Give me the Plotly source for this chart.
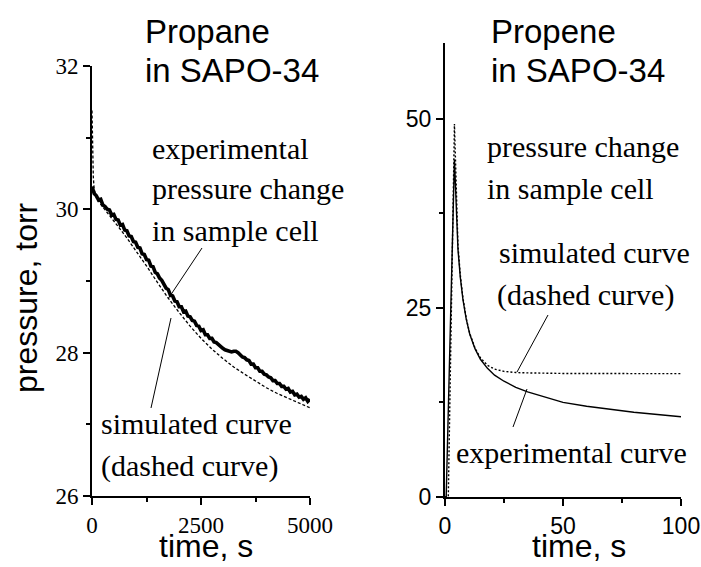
import plotly.graph_objects as go

# ---------------- data ----------------
# Propane in SAPO-34 (left panel)
propane_exp_t = [0, 50, 100, 150, 200, 250, 300, 350, 400, 450, 500, 550, 600, 650, 700, 750, 800, 850, 900, 950,
                 1000, 1050, 1100, 1150, 1200, 1250, 1300, 1350, 1400, 1450, 1500, 1550, 1600, 1650, 1700, 1750,
                 1800, 1850, 1900, 1950, 2000, 2050, 2100, 2150, 2200, 2250, 2300, 2350, 2400, 2450, 2500, 2550,
                 2600, 2650, 2700, 2750, 2800, 2850, 2900, 2950, 3000, 3050, 3100, 3150, 3200, 3250, 3300, 3350,
                 3400, 3450, 3500, 3550, 3600, 3650, 3700, 3750, 3800, 3850, 3900, 3950, 4000, 4050, 4100, 4150,
                 4200, 4250, 4300, 4350, 4400, 4450, 4500, 4550, 4600, 4650, 4700, 4750, 4800, 4850, 4900, 4950, 5000]
propane_exp_p = [30.32, 30.22, 30.19, 30.13, 30.14, 30.06, 30.04, 30.00, 29.99, 29.92, 29.93, 29.86, 29.85, 29.78,
                 29.79, 29.71, 29.70, 29.63, 29.62, 29.55, 29.54, 29.47, 29.46, 29.38, 29.37, 29.30, 29.29, 29.21,
                 29.20, 29.12, 29.10, 29.04, 29.01, 28.96, 28.90, 28.88, 28.80, 28.79, 28.72, 28.71, 28.64, 28.64,
                 28.57, 28.58, 28.51, 28.50, 28.45, 28.44, 28.38, 28.37, 28.31, 28.32, 28.25, 28.25, 28.20, 28.20,
                 28.15, 28.14, 28.11, 28.08, 28.06, 28.04, 28.03, 28.01, 28.01, 28.02, 28.02, 28.00, 27.97, 27.94,
                 27.93, 27.90, 27.89, 27.84, 27.84, 27.79, 27.79, 27.74, 27.74, 27.70, 27.69, 27.66, 27.65, 27.61,
                 27.61, 27.57, 27.57, 27.53, 27.53, 27.49, 27.50, 27.45, 27.46, 27.41, 27.42, 27.38, 27.39, 27.35,
                 27.37, 27.32, 27.35]
propane_sim_t = [0, 5, 10, 20, 30, 50, 100, 200, 400, 600, 800, 1000, 1250, 1500, 1750, 2000, 2250, 2500, 2750,
                 3000, 3250, 3500, 3750, 4000, 4250, 4500, 4750, 5000]
propane_sim_p = [31.38, 31.15, 30.95, 30.65, 30.45, 30.28, 30.16, 30.07, 29.92, 29.76, 29.60, 29.43, 29.21, 28.98,
                 28.76, 28.56, 28.37, 28.20, 28.05, 27.92, 27.80, 27.70, 27.60, 27.51, 27.43, 27.36, 27.29, 27.23]

# Propene in SAPO-34 (right panel)
propene_exp_t = [0, 0.5, 4, 5, 5.5, 6.5, 7.6, 9, 10.5, 12.7, 15, 18, 21, 25, 30, 35, 40, 50, 60, 70, 80, 90, 100]
propene_exp_p = [0, 0, 44.6, 36.5, 32.7, 29.0, 26.1, 23.5, 21.5, 19.6, 18.2, 17.0, 16.1, 15.3, 14.5, 13.9, 13.4,
                 12.5, 12.0, 11.6, 11.2, 10.9, 10.6]
propene_sim_t = [0, 1.4, 4, 5, 5.5, 6.5, 7.6, 9, 10.5, 12.7, 15, 18, 21, 25, 30, 35, 40, 50, 60, 70, 80, 90, 100]
propene_sim_p = [0, 0, 49.3, 37.5, 33.2, 29.3, 26.3, 23.6, 21.6, 19.7, 18.4, 17.4, 16.9, 16.6, 16.45, 16.4, 16.35,
                 16.33, 16.32, 16.31, 16.30, 16.30, 16.30]

left_xticks = [0, 2500, 5000]
left_yticks = [26, 28, 30, 32]
right_xticks = [0, 50, 100]
right_yticks = [0, 25, 50]

W, H = 701, 567
SERIF = "Liberation Serif, Times New Roman, serif"
SANS = "Liberation Sans, Arial, sans-serif"


def px(x):
    return x / W


def py(y):
    return 1 - y / H


fig = go.Figure()
fig.add_trace(go.Scatter(x=propane_sim_t, y=propane_sim_p, mode="lines", xaxis="x", yaxis="y",
                         line=dict(color="black", width=1.3, dash="3px,2px"), showlegend=False))
fig.add_trace(go.Scatter(x=propane_exp_t, y=propane_exp_p, mode="lines", xaxis="x", yaxis="y",
                         line=dict(color="black", width=3.6), showlegend=False))
fig.add_trace(go.Scatter(x=propene_exp_t, y=propene_exp_p, mode="lines", xaxis="x2", yaxis="y2",
                         line=dict(color="black", width=1.4), showlegend=False))
fig.add_trace(go.Scatter(x=propene_sim_t, y=propene_sim_p, mode="lines", xaxis="x2", yaxis="y2",
                         line=dict(color="black", width=1.4, dash="2px,2px"), showlegend=False))

axis_common = dict(showline=True, linecolor="black", linewidth=2, ticks="outside", ticklen=7, tickwidth=1.5,
                   tickcolor="black", showgrid=False, zeroline=False, mirror=False, automargin=False)

fig.update_layout(
    width=W, height=H, margin=dict(l=0, r=0, t=0, b=0, autoexpand=False),
    paper_bgcolor="white", plot_bgcolor="white",
    xaxis=dict(domain=[px(92), px(310)], range=[0, 5000], tickvals=left_xticks,
               ticktext=[str(v) for v in left_xticks], anchor="y",
               tickfont=dict(family=SERIF, size=23, color="black"),
               minor=dict(ticks="outside", ticklen=4, tickwidth=1.5, tickcolor="black", dtick=1250, tick0=0),
               **axis_common),
    yaxis=dict(domain=[py(496), py(66)], range=[26, 32], tickvals=left_yticks,
               ticktext=[str(v) for v in left_yticks], anchor="x",
               tickfont=dict(family=SERIF, size=23, color="black"),
               minor=dict(ticks="outside", ticklen=4, tickwidth=1.5, tickcolor="black", dtick=1, tick0=26),
               **axis_common),
    xaxis2=dict(domain=[px(445), px(681)], range=[0, 100], tickvals=right_xticks,
                ticktext=[str(v) for v in right_xticks], anchor="y2",
                tickfont=dict(family=SANS, size=23, color="black"),
                minor=dict(ticks="outside", ticklen=4, tickwidth=1.5, tickcolor="black", dtick=25, tick0=0),
                **axis_common),
    yaxis2=dict(domain=[py(497), py(43)], range=[0, 60], tickvals=right_yticks,
                ticktext=[str(v) for v in right_yticks], anchor="x2",
                tickfont=dict(family=SANS, size=23, color="black"),
                minor=dict(ticks="outside", ticklen=4, tickwidth=1.5, tickcolor="black", tickvals=[12.5, 37.5]),
                **axis_common),
)


def txt(x, y, s, family, size, anchor="left"):
    fig.add_annotation(x=px(x), y=py(y), xref="paper", yref="paper", text=s, showarrow=False,
                       xanchor=anchor, yanchor="middle", font=dict(family=family, size=size, color="black"))


# titles
txt(143, 31, "Propane", SANS, 33)
txt(143, 70, "in SAPO-34", SANS, 33)
txt(489, 31, "Propene", SANS, 33)
txt(489, 70, "in SAPO-34", SANS, 33)
# axis titles
fig.add_annotation(x=px(26), y=py(298), xref="paper", yref="paper", text="pressure, torr", showarrow=False,
                   textangle=-90, xanchor="center", yanchor="middle",
                   font=dict(family=SANS, size=32, color="black"))
txt(206, 546, "time, s", SANS, 32, "center")
txt(579, 546, "time, s", SANS, 32, "center")
# left annotations
txt(150, 148, "experimental", SERIF, 30)
txt(150, 189, "pressure change", SERIF, 30)
txt(150, 230, "in sample cell", SERIF, 30)
txt(99, 423, "simulated curve", SERIF, 30)
txt(99, 466, "(dashed curve)", SERIF, 30)
# right annotations
txt(485, 146, "pressure change", SERIF, 30)
txt(485, 188, "in sample cell", SERIF, 30)
txt(497, 253, "simulated curve", SERIF, 30)
txt(495, 295, "(dashed curve)", SERIF, 30)
txt(454, 452, "experimental curve", SERIF, 30)

# pointer lines
for (x0, y0, x1, y1) in [(202, 248, 168, 299), (171, 318, 151, 408), (548, 315, 517, 372), (527, 389, 513, 427)]:
    fig.add_shape(type="line", xref="paper", yref="paper", x0=px(x0), y0=py(y0), x1=px(x1), y1=py(y1),
                  line=dict(color="black", width=1))

fig.write_html("out.html", config={"displayModeBar": False},
               post_script="document.body.style.margin='0px';document.body.style.overflow='hidden';")
